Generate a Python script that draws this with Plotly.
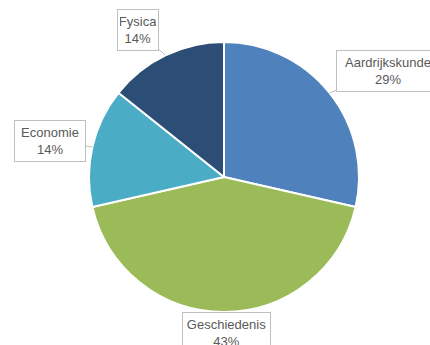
import math
import plotly.graph_objects as go

# Subject shares
subjects = ["Aardrijkskunde", "Geschiedenis", "Economie", "Fysica"]
counts = [2, 3, 1, 1]
colors = ["#4F81BD", "#9BBB59", "#4BACC6", "#2C4D75"]

W, H = 430, 345
CX, CY, R = 224, 177, 135  # pie centre and radius in pixels

fig = go.Figure(go.Pie(
    labels=subjects,
    values=counts,
    sort=False,
    direction="clockwise",
    rotation=0,
    marker=dict(colors=colors, line=dict(color="white", width=2)),
    textinfo="none",
    hoverinfo="label+percent",
    showlegend=False,
    domain=dict(x=[(CX - R) / W, (CX + R) / W],
                y=[1 - (CY + R) / H, 1 - (CY - R) / H]),
))

# Callout boxes: offset of box centre from the slice's rim midpoint, box size
callouts = {
    "Aardrijkskunde": dict(dx=58, dy=-22, w=98, h=36, arrow=True),
    "Geschiedenis": dict(dx=2, dy=21, w=83, h=36, arrow=False),
    "Economie": dict(dx=-42, dy=-6, w=66, h=36, arrow=True),
    "Fysica": dict(dx=-27, dy=-25, w=36, h=36, arrow=True),
}

total = sum(counts)
cum = 0
annotations = []
for name, v in zip(subjects, counts):
    mid = (cum + v / 2) / total * 2 * math.pi
    cum += v
    px = CX + R * math.sin(mid)
    py = CY - R * math.cos(mid)
    c = callouts[name]
    pct = round(100 * v / total)
    annotations.append(dict(
        x=px / W, y=1 - py / H, xref="paper", yref="paper",
        text=f"{name}<br>{pct}%",
        showarrow=True,
        arrowhead=0, arrowwidth=1,
        arrowcolor="#BFBFBF" if c["arrow"] else "rgba(0,0,0,0)",
        ax=c["dx"], ay=c["dy"],
        width=c["w"], height=c["h"],
        align="center", valign="middle",
        bgcolor="white", bordercolor="#BFBFBF", borderwidth=1, borderpad=2,
        font=dict(family="Liberation Sans, Arial, sans-serif", size=13, color="#595959"),
    ))

fig.update_layout(
    width=W, height=H,
    margin=dict(l=0, r=0, t=0, b=0),
    paper_bgcolor="white",
    plot_bgcolor="white",
    annotations=annotations,
)

fig.write_html("out.html")
